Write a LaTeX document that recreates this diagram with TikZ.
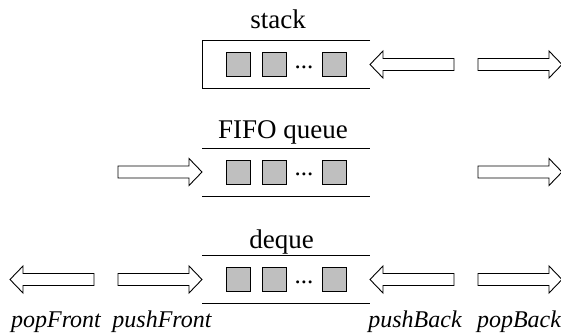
\documentclass[tikz,border=0pt]{standalone}
\usepackage{fontspec}
\setmainfont{Liberation Serif}
\tikzset{
  lw/.style={line width=0.9pt},
  title/.style={font=\fontsize{27}{32}\selectfont, anchor=base, inner sep=0pt},
  oplabel/.style={font=\fontsize{24}{29}\selectfont\itshape, anchor=base, inner sep=0pt},
  cell/.style={draw=black, line width=0.8pt, fill=black!25, minimum width=24pt, minimum height=24pt, inner sep=0pt},
  dots/.style={font=\fontsize{25}{30}\selectfont, anchor=base, inner sep=0pt},
  barrow/.pic={\draw[lw, fill=white, line join=miter]
      (0,-6) -- (71,-6) -- (71,-13.5) -- (84,0) -- (71,13.5) -- (71,6) -- (0,6) -- cycle;}
}
\begin{document}
\begin{tikzpicture}[x=1pt,y=-1pt]
\useasboundingbox (0,0) rectangle (561,332);
% ---------- stack ----------
\node[title] (tstack) at (278,28) {stack};
\draw[lw] (370,40.5) -- (202,40.5) -- (202,88.5) -- (370,88.5);
\node[cell] (s1) at (238,64.5) {};
\node[cell] (s2) at (274,64.5) {};
\node[dots] (sd) at (304,68) {...};
\node[cell] (s3) at (334,64.5) {};
\pic[xscale=-1] at (454,64.5) {barrow};
\pic at (478,64.5) {barrow};
% ---------- FIFO queue ----------
\node[title] (tfifo) at (283,138) {FIFO queue};
\draw[lw] (202,148) -- (370,148);
\draw[lw] (202,196) -- (370,196);
\node[cell] (f1) at (238,172) {};
\node[cell] (f2) at (274,172) {};
\node[dots] (fd) at (304,175.5) {...};
\node[cell] (f3) at (334,172) {};
\pic at (118,172) {barrow};
\pic at (478,172) {barrow};
% ---------- deque ----------
\node[title] (tdeque) at (281.5,248) {deque};
\draw[lw] (202,255.5) -- (370,255.5);
\draw[lw] (202,303.5) -- (370,303.5);
\node[cell] (d1) at (238,279.5) {};
\node[cell] (d2) at (274,279.5) {};
\node[dots] (dd) at (304,283) {...};
\node[cell] (d3) at (334,279.5) {};
\pic[xscale=-1] at (94,279.5) {barrow};
\pic at (118,279.5) {barrow};
\pic[xscale=-1] at (454,279.5) {barrow};
\pic at (478,279.5) {barrow};
% ---------- operation labels ----------
\node[oplabel] (popf) at (56,327) {popFront};
\node[oplabel] (pushf) at (162,327) {pushFront};
\node[oplabel] (pushb) at (415,327) {pushBack};
\node[oplabel] (popb) at (519,327) {popBack};
\end{tikzpicture}
\end{document}
